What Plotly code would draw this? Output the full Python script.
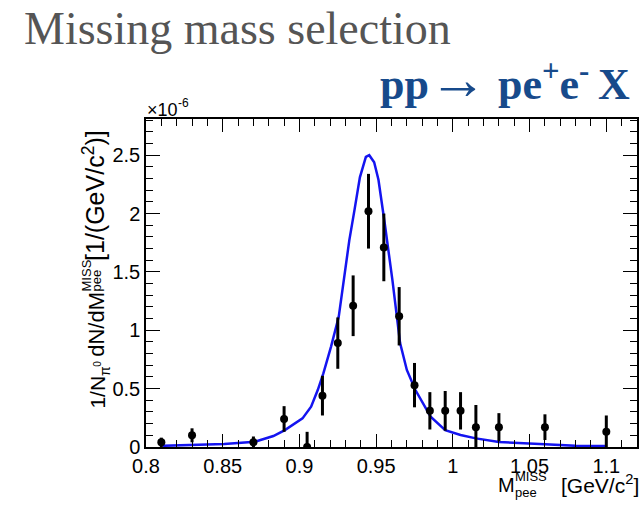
import plotly.graph_objects as go

# Data (y in units of 1e-6 per GeV/c^2, as read on the axis)
mass = [0.81, 0.83, 0.87, 0.89, 0.905, 0.915, 0.925, 0.935, 0.945, 0.955,
        0.965, 0.975, 0.985, 0.995, 1.005, 1.015, 1.03, 1.06, 1.10]
yield_ = [0.04, 0.10, 0.04, 0.24, 0.0, 0.44, 0.89, 1.21, 2.02, 1.71,
          1.12, 0.53, 0.31, 0.31, 0.31, 0.17, 0.17, 0.17, 0.13]
err = [0.04, 0.06, 0.05, 0.11, 0.13, 0.17, 0.22, 0.26, 0.32, 0.29,
       0.25, 0.19, 0.16, 0.17, 0.16, 0.19, 0.12, 0.11, 0.14]

sim_mass = [0.811, 0.831, 0.851, 0.871, 0.883, 0.8905, 0.897, 0.902, 0.9076,
            0.912, 0.9156, 0.9206, 0.9256, 0.9292, 0.9325, 0.936, 0.9394,
            0.9433, 0.9455, 0.9487, 0.9515, 0.9556, 0.9606, 0.9656, 0.970,
            0.9755, 0.9855, 0.995, 1.005, 1.015, 1.03, 1.06, 1.08, 1.10]
sim_yield = [0.01, 0.02, 0.026, 0.045, 0.094, 0.145, 0.20, 0.245, 0.345,
             0.49, 0.63, 0.86, 1.115, 1.46, 1.77, 2.04, 2.31,
             2.485, 2.50, 2.44, 2.29, 1.915, 1.43, 0.89, 0.66,
             0.49, 0.26, 0.145, 0.103, 0.074, 0.043, 0.023, 0.01, 0.008]

x_range = [0.8, 1.12]
y_range = [0, 2.81]

W, H = 643, 509
L, R, T, B = 146, 4, 119, 62
PW, PH = W - L - R, H - T - B


def px(xp):  # page pixel -> paper x
    return (xp - L) / PW


def py(yp):  # page pixel -> paper y
    return (H - B - yp) / PH


fig = go.Figure()
fig.add_trace(go.Scatter(
    x=sim_mass, y=sim_yield, mode="lines",
    line=dict(color="#1414f0", width=2.5), hoverinfo="skip", showlegend=False))
fig.add_trace(go.Scatter(
    x=mass, y=yield_, mode="markers",
    marker=dict(color="black", size=8),
    error_y=dict(type="data", array=err, color="black", thickness=3, width=0),
    showlegend=False))

axis_common = dict(
    showgrid=False, zeroline=False, showline=True, linecolor="black",
    linewidth=1.5, mirror="allticks", ticks="inside", tickcolor="black",
    tickwidth=1, tickfont=dict(family="Liberation Sans", size=20, color="black"),
)
fig.update_xaxes(range=x_range, dtick=0.05, tick0=0.8, ticklen=13,
                 minor=dict(dtick=0.01, ticks="inside", ticklen=7, tickcolor="black"),
                 **axis_common)
fig.update_yaxes(range=y_range, dtick=0.5, tick0=0, ticklen=14,
                 minor=dict(dtick=0.1, ticks="inside", ticklen=7, tickcolor="black"),
                 **axis_common)

SANS = "Liberation Sans"
ann = []


def text_h(txt, x_left, baseline, size, color="black", family=SANS):
    # horizontal text, left edge and baseline in page pixels
    ann.append(dict(text=txt, x=px(x_left), y=py(baseline + 0.212 * size), borderpad=0,
                    xref="paper", yref="paper", xanchor="left", yanchor="bottom",
                    showarrow=False, font=dict(family=family, size=size, color=color)))


def text_v(txt, y_start, baseline_x, size, color="black", family=SANS):
    # text rotated -90 degrees, starting at y_start (bottom), baseline at baseline_x
    ann.append(dict(text=txt, x=px(baseline_x + 0.212 * size), y=py(y_start), borderpad=0,
                    xref="paper", yref="paper", xanchor="right", yanchor="bottom",
                    textangle=-90, showarrow=False,
                    font=dict(family=family, size=size, color=color)))


# headline and reaction
ann.append(dict(text="Missing mass selection", x=px(21), y=py(1), xref="paper", yref="paper",
                xanchor="left", yanchor="top", showarrow=False,
                font=dict(family="Liberation Serif", size=46, color="#555555")))
ann.append(dict(text="<b>pp<span style='font-size:58px'>→</span> pe<sup>+</sup>e<sup>-</sup>\u2009X</b>",
                x=px(634), y=py(114),
                xref="paper", yref="paper", xanchor="right", yanchor="bottom", showarrow=False,
                font=dict(family="Liberation Serif", size=44, color="#174a8b")))

# exponent label
text_h("×10", 146, 117, 18)
text_h("-6", 177, 108, 12)

# x-axis title: M_{pee}^{MISS} [GeV/c^2]
text_h("M", 498, 493, 20)
text_h("MISS", 516, 482, 13)
text_h("pee", 516, 498, 13)
text_h("[GeV/c<sup>2</sup>]", 562, 494, 21)

# y-axis title: 1/N_{pi^0} dN/dM_{pee}^{MISS} [1/(GeV/c^2)]
text_v("1/N", 410, 105, 21)
text_v("π", 377, 111, 14)
text_v("0", 368, 101, 10)
text_v("dN/dM", 358, 105, 22)
text_v("MISS", 292, 92, 13)
text_v("pee", 292, 102, 13)
text_v("[1/(GeV/c<sup>2</sup>)]", 262, 105, 25)

fig.update_layout(
    width=W, height=H, margin=dict(l=L, r=R, t=T, b=B),
    paper_bgcolor="white", plot_bgcolor="white",
    annotations=ann,
)
fig.write_html("out.html", config={"displayModeBar": False},
               post_script="document.body.style.margin='0px';")
